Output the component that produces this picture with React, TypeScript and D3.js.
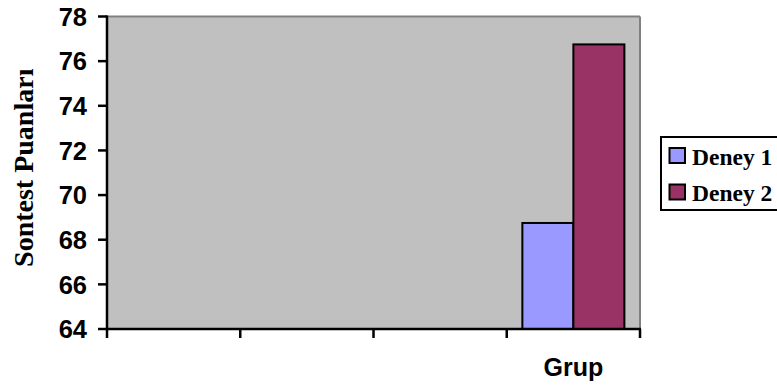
import React from "react";
import * as d3 from "d3";

// Groups along the category axis; only the last one carries scores
const groups = ["g1", "g2", "g3", "g4"];
const seriesNames = ["Deney 1", "Deney 2"];
const deney1 = [null, null, null, 68.75];
const deney2 = [null, null, null, 76.75];
const yTicks = [64, 66, 68, 70, 72, 74, 76, 78];
const seriesColors = ["#9999ff", "#993366"];

const W = 777;
const H = 385;
const plot = { left: 107, right: 640, top: 16.5, bottom: 329 };

export default function App() {
  const x = d3.scaleBand<string>().domain(groups).range([plot.left, plot.right]).padding(0);
  const inner = d3
    .scaleBand<string>()
    .domain(seriesNames)
    .range([0, x.bandwidth()])
    .paddingInner(0)
    .paddingOuter(0.306);
  const y = d3.scaleLinear().domain([64, 78]).range([plot.bottom, plot.top]);

  const series = [deney1, deney2];
  const tickXs = [...groups.map((g) => x(g) as number), plot.right];

  return (
    <svg width={W} height={H} style={{ position: "absolute", left: 0, top: 0 }}>
      {/* plot area */}
      <rect x={plot.left} y={plot.top} width={plot.right - plot.left} height={plot.bottom - plot.top} fill="#c0c0c0" />
      <line x1={plot.left} x2={plot.right} y1={plot.top} y2={plot.top} stroke="#808080" strokeWidth={2} />
      <line x1={plot.right} x2={plot.right} y1={plot.top} y2={plot.bottom} stroke="#808080" strokeWidth={2} />

      {/* bars */}
      {groups.map((g, gi) =>
        series.map((s, si) => {
          const v = s[gi];
          if (v == null) return null;
          const bx = (x(g) as number) + (inner(seriesNames[si]) as number);
          return (
            <rect
              key={g + si}
              x={bx}
              y={y(v)}
              width={inner.bandwidth()}
              height={y(64) - y(v)}
              fill={seriesColors[si]}
              stroke="#000"
              strokeWidth={2}
            />
          );
        })
      )}

      {/* y axis */}
      <line x1={plot.left} x2={plot.left} y1={plot.top - 1} y2={plot.bottom + 1} stroke="#000" strokeWidth={2.5} />
      {yTicks.map((t) => (
        <g key={t}>
          <line x1={plot.left - 9} x2={plot.left} y1={y(t)} y2={y(t)} stroke="#000" strokeWidth={2.5} />
          <text
            x={87}
            y={y(t)}
            dy="0.36em"
            textAnchor="end"
            fontFamily="'Liberation Sans', Arial, sans-serif"
            fontWeight="bold"
            fontSize={25.5}
          >
            {t}
          </text>
        </g>
      ))}

      {/* x axis */}
      <line x1={plot.left - 1} x2={plot.right + 1} y1={plot.bottom} y2={plot.bottom} stroke="#000" strokeWidth={2.5} />
      {tickXs.map((tx, i) => (
        <line key={i} x1={tx} x2={tx} y1={plot.bottom} y2={plot.bottom + 9} stroke="#000" strokeWidth={2.5} />
      ))}
      <text
        x={(x("g4") as number) + x.bandwidth() / 2}
        y={376}
        textAnchor="middle"
        fontFamily="'Liberation Sans', Arial, sans-serif"
        fontWeight="bold"
        fontSize={25}
      >
        Grup
      </text>

      {/* y axis title */}
      <text
        transform={`translate(33, ${(plot.top + plot.bottom) / 2 - 5}) rotate(-90)`}
        textAnchor="middle"
        fontFamily="'Liberation Serif', 'Times New Roman', serif"
        fontWeight="bold"
        fontSize={28}
      >
        Sontest Puanları
      </text>

      {/* legend */}
      <rect x={661} y={137} width={130} height={73} fill="#fff" stroke="#000" strokeWidth={2} />
      {seriesNames.map((n, i) => (
        <g key={n} transform={`translate(0, ${i * 36.5})`}>
          <rect x={669.5} y={148} width={15.5} height={15} fill={seriesColors[i]} stroke="#000" strokeWidth={2} />
          <text
            x={692}
            y={164.5}
            fontFamily="'Liberation Serif', 'Times New Roman', serif"
            fontWeight="bold"
            fontSize={23.5}
          >
            {n}
          </text>
        </g>
      ))}
    </svg>
  );
}
